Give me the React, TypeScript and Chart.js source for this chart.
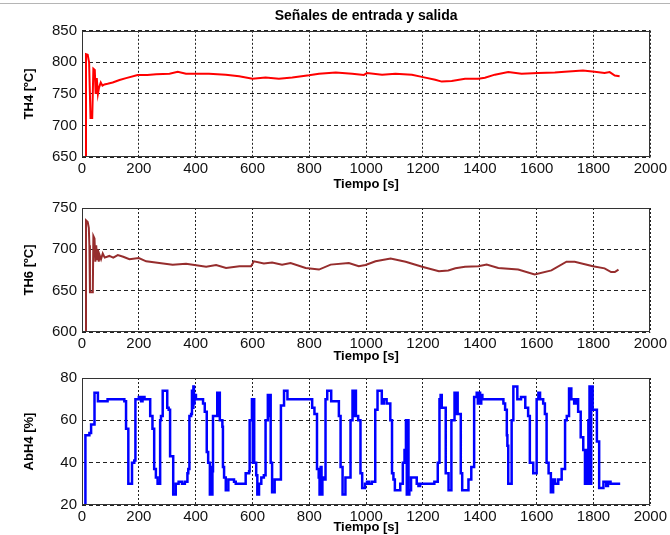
import React, { useEffect, useRef } from "react";
import { Chart, registerables } from "chart.js";
Chart.register(...registerables);

const figureTitle = "Señales de entrada y salida";
const timeLabel = "Tiempo [s]";
const timeTicks = [0, 200, 400, 600, 800, 1000, 1200, 1400, 1600, 1800, 2000];

const th4Label = "TH4 [ºC]";
const th4Ticks = [650, 700, 750, 800, 850];
const th4Time = [
  12, 14, 20, 25, 30, 36, 40, 45, 48, 52,
  56, 60, 66, 72, 79, 90, 108, 132, 155, 196,
  230, 261, 308, 337, 366, 395, 447, 506, 553, 600,
  646, 693, 740, 799, 834, 893, 951, 992, 1003, 1056,
  1103, 1161, 1196, 1243, 1266, 1301, 1348, 1395, 1418, 1453,
  1500, 1547, 1605, 1664, 1699, 1763, 1804, 1839, 1857, 1875,
  1892,
];
const th4Values = [
  650, 813, 812, 800, 712, 712, 790, 788, 750, 775,
  750, 760, 768, 763, 765, 766, 768, 772, 775, 780,
  780, 781, 782, 785, 782, 782, 782, 780.5, 778, 774,
  776, 774, 776, 779.5, 782, 784, 782, 780, 783, 780.5,
  782, 780.5, 777, 772.5, 769.5, 770.5, 774, 774, 775.5, 780.5,
  784.5, 782, 783, 784, 785, 787, 785, 783, 784.5, 779,
  778,
];

const th6Label = "TH6 [ºC]";
const th6Ticks = [600, 650, 700, 750];
const th6Time = [
  12, 14, 20, 24, 26, 28, 38, 40, 44, 47,
  50, 53, 56, 59, 62, 67, 73, 80, 96, 110,
  126, 145, 167, 200, 226, 272, 319, 366, 396, 437,
  472, 507, 554, 595, 605, 640, 669, 704, 734, 787,
  834, 875, 939, 974, 998, 1033, 1086, 1139, 1197, 1256,
  1289, 1314, 1348, 1395, 1424, 1465, 1535, 1593, 1652, 1705,
  1734, 1798, 1839, 1862, 1875, 1888,
];
const th6Values = [
  600, 735, 733, 726, 705, 648, 648, 716, 713, 685,
  705, 688, 700, 685, 693, 688, 695, 690, 692, 690,
  693, 691, 688, 689.5, 685.5, 683.5, 681.5, 682.5, 681, 679,
  681, 677.5, 679.5, 679.5, 685.5, 683, 684, 681.5, 683.5, 677.5,
  675.5, 681.5, 683.5, 679.5, 681, 685.5, 689, 685, 679, 673.5,
  674.5, 677, 679, 679.5, 681.5, 677.5, 675.5, 669.5, 674.5, 685,
  685, 679.5, 677, 672.5, 672.5, 675.5,
];

const abh4Label = "AbH4 [%]";
const abh4Ticks = [20, 40, 60, 80];
const abh4Time = [
  10, 12, 26, 32, 44, 56, 90, 105, 149, 155,
  163, 176, 184, 188, 200, 208, 213, 220, 240, 248,
  254, 260, 266, 275, 278, 284, 300, 305, 310, 321,
  330, 340, 352, 362, 371, 374, 378, 384, 387, 390,
  392, 394, 396, 401, 426, 432, 439, 444, 450, 453,
  456, 459, 461, 476, 479, 481, 485, 494, 496, 500,
  506, 515, 535, 541, 576, 588, 590, 598, 601, 603,
  606, 613, 617, 623, 631, 640, 646, 654, 657, 660,
  664, 669, 678, 700, 711, 723, 810, 818, 827, 833,
  836, 840, 843, 846, 852, 857, 863, 877, 904, 910,
  917, 927, 945, 952, 956, 960, 964, 972, 980, 986,
  996, 1003, 1010, 1020, 1032, 1040, 1055, 1062, 1072, 1085,
  1091, 1096, 1101, 1120, 1129, 1135, 1140, 1143, 1146, 1149,
  1152, 1158, 1178, 1184, 1190, 1240, 1252, 1258, 1262, 1266,
  1280, 1290, 1300, 1311, 1315, 1318, 1322, 1333, 1338, 1360,
  1370, 1380, 1389, 1393, 1397, 1401, 1405, 1409, 1483, 1489,
  1495, 1497, 1500, 1512, 1518, 1532, 1545, 1560, 1570, 1576,
  1588, 1600, 1606, 1612, 1623, 1629, 1635, 1642, 1650, 1658,
  1665, 1676, 1688, 1700, 1706, 1714, 1722, 1732, 1740, 1746,
  1755, 1764, 1770, 1776, 1779, 1782, 1786, 1789, 1792, 1797,
  1812, 1820, 1835, 1845, 1851, 1860, 1894,
];
const abh4Values = [
  20, 53, 54, 58, 73, 69, 70, 70, 69, 56,
  30, 40, 41, 70, 71, 69, 71, 70, 62, 56,
  37, 33, 30, 60, 62, 74, 66, 65, 43, 25,
  30, 31, 30, 31, 35, 37, 62, 63, 74, 66,
  76, 68, 72, 70, 68, 64, 45, 40, 25, 38,
  25, 36, 62, 73, 62, 73, 60, 57, 38, 33,
  27, 32, 31, 30, 35, 36, 60, 70, 40, 70,
  40, 34, 25, 30, 33, 34, 60, 72, 62, 72,
  40, 26, 32, 67, 74, 70, 66, 63, 37, 33,
  25, 38, 25, 33, 32, 70, 74, 69, 62, 38,
  25, 33, 60, 74, 62, 74, 62, 60, 35, 28,
  30, 31, 30, 31, 65, 74, 68, 70, 68, 60,
  35, 32, 27, 30, 40, 46, 60, 25, 60, 25,
  27, 33, 30, 29, 30, 31, 40, 70, 72, 66,
  35, 27, 60, 73, 63, 73, 63, 35, 27, 32,
  38, 71, 73, 68, 73, 68, 72, 70, 68, 65,
  53, 48, 30, 60, 76, 70, 71, 66, 62, 40,
  35, 70, 73, 70, 68, 63, 40, 35, 26, 32,
  30, 32, 37, 60, 62, 75, 70, 68, 70, 64,
  52, 46, 30, 46, 30, 60, 76, 30, 76, 65,
  50, 28, 31, 29, 31, 30, 30,
];

const FONT = "'Liberation Sans', Arial, Helvetica, sans-serif";

const boxPlugin = {
  id: "matlabBox",
  afterDraw(chart: any) {
    const { ctx, chartArea } = chart;
    const { left, top, right, bottom } = chartArea;
    ctx.save();
    ctx.strokeStyle = "#333";
    ctx.lineWidth = 1;
    ctx.setLineDash([]);
    ctx.strokeRect(Math.round(left) + 0.5, Math.round(top) + 0.5, Math.round(right - left) - 1, Math.round(bottom - top) - 1);
    ctx.restore();
  },
};

type PanelCfg = {
  times: number[];
  values: number[];
  color: string;
  width: number;
  stepped: boolean;
  yMin: number;
  yMax: number;
  yTicks: number[];
  yTitle: string;
  height: number;
  padTop: number;
  xAxisHeight: number;
  title?: string;
};

function Panel({ cfg, top }: { cfg: PanelCfg; top: number }) {
  const ref = useRef<HTMLCanvasElement | null>(null);
  useEffect(() => {
    if (!ref.current) return;
    const data = cfg.times.map((t, i) => ({ x: t, y: cfg.values[i] }));
    const chart = new Chart(ref.current, {
      type: "line",
      data: {
        datasets: [
          {
            data,
            borderColor: cfg.color,
            borderWidth: cfg.width,
            pointRadius: 0,
            tension: 0,
            stepped: cfg.stepped,
            fill: false,
          },
        ],
      },
      options: {
        animation: false,
        responsive: false,
        events: [],
        layout: { padding: { left: 0, right: 18, top: cfg.padTop, bottom: 0 } },
        plugins: {
          legend: { display: false },
          tooltip: { enabled: false },
          title: cfg.title
            ? {
                display: true,
                text: cfg.title,
                fullSize: false,
                color: "#000",
                font: { family: FONT, size: 14, weight: "bold" },
                padding: { top: 8, bottom: 6 },
              }
            : { display: false },
        },
        scales: {
          x: {
            type: "linear",
            min: 0,
            max: 2000,
            afterBuildTicks: (s: any) => {
              s.ticks = timeTicks.map((v) => ({ value: v }));
            },
            afterFit: (s: any) => {
              s.height = cfg.xAxisHeight;
            },
            ticks: {
              autoSkip: false,
              maxRotation: 0,
              padding: 3,
              color: "#111",
              font: { family: FONT, size: 15 },
              callback: (v: any) => String(v),
            },
            grid: { color: "#222", lineWidth: 1, drawTicks: false },
            border: { display: false, dash: [2, 2] },
            title: {
              display: true,
              text: timeLabel,
              color: "#000",
              font: { family: FONT, size: 13, weight: "bold" },
              padding: { top: 0, bottom: 0 },
            },
          },
          y: {
            type: "linear",
            min: cfg.yMin,
            max: cfg.yMax,
            afterBuildTicks: (s: any) => {
              s.ticks = cfg.yTicks.map((v) => ({ value: v }));
            },
            afterFit: (s: any) => {
              s.width = 82;
            },
            ticks: {
              padding: 5,
              color: "#111",
              font: { family: FONT, size: 15 },
              callback: (v: any) => String(v),
            },
            grid: { color: "#222", lineWidth: 1, drawTicks: false },
            border: { display: false, dash: [4, 3] },
            title: {
              display: true,
              text: cfg.yTitle,
              color: "#000",
              font: { family: FONT, size: 13, weight: "bold" },
              padding: { top: 22, bottom: 0 },
            },
          },
        },
      },
      plugins: [boxPlugin],
    } as any);
    return () => chart.destroy();
  }, [cfg]);
  return (
    <div style={{ position: "absolute", left: 0, top, width: 670, height: cfg.height }}>
      <canvas ref={ref} width={670} height={cfg.height} style={{ width: 670, height: cfg.height, display: "block" }} />
    </div>
  );
}

const panel1: PanelCfg = {
  times: th4Time,
  values: th4Values,
  color: "#ff0000",
  width: 2,
  stepped: false,
  yMin: 650,
  yMax: 850,
  yTicks: th4Ticks,
  yTitle: th4Label,
  height: 192,
  padTop: 0,
  xAxisHeight: 35,
  title: figureTitle,
};

const panel2: PanelCfg = {
  times: th6Time,
  values: th6Values,
  color: "#962d2d",
  width: 2,
  stepped: false,
  yMin: 600,
  yMax: 750,
  yTicks: th6Ticks,
  yTitle: th6Label,
  height: 172,
  padTop: 16,
  xAxisHeight: 32,
};

const panel3: PanelCfg = {
  times: abh4Time,
  values: abh4Values,
  color: "#0000ff",
  width: 2.5,
  stepped: true,
  yMin: 20,
  yMax: 80,
  yTicks: abh4Ticks,
  yTitle: abh4Label,
  height: 171,
  padTop: 14,
  xAxisHeight: 30,
};

export default function App() {
  return (
    <div style={{ position: "absolute", left: 0, top: 0, width: 670, height: 535, background: "#fff", overflow: "hidden" }}>
      <div style={{ position: "absolute", left: 0, top: 3, width: 670, height: 1, background: "#b5b5b5" }} />
      <Panel cfg={panel1} top={0} />
      <Panel cfg={panel2} top={192} />
      <Panel cfg={panel3} top={364} />
    </div>
  );
}
